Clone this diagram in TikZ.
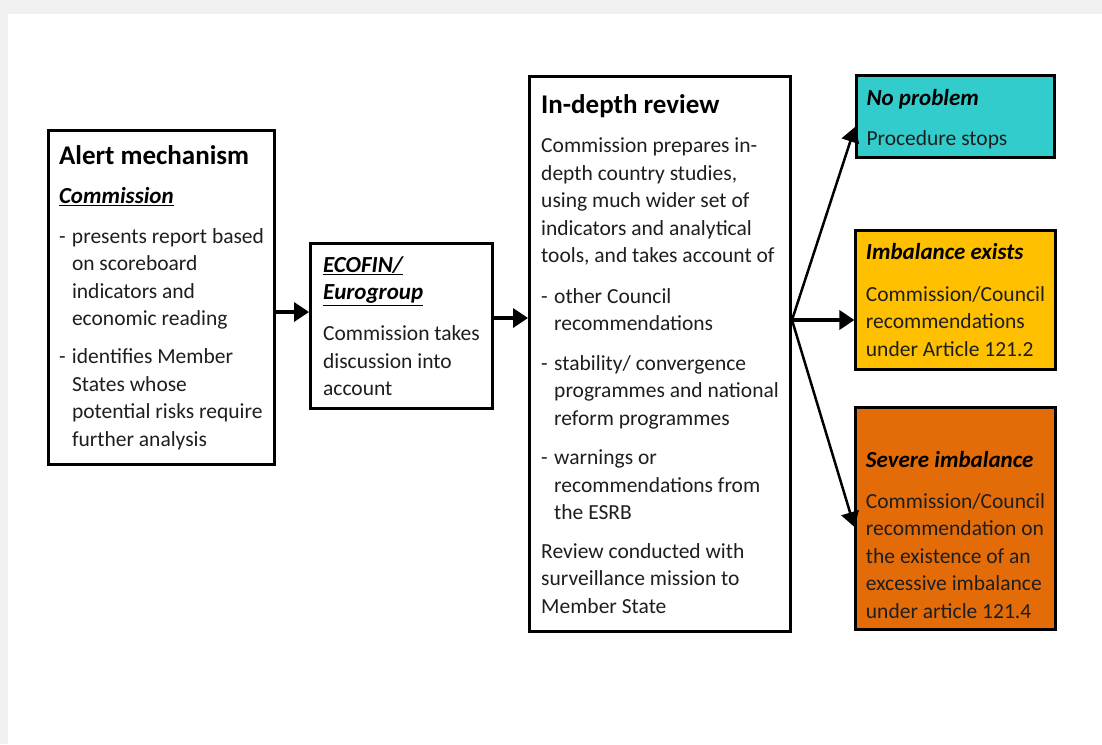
\documentclass[tikz,border=0pt]{standalone}
\usepackage{fontspec}
\setmainfont{Carlito}
\usetikzlibrary{arrows.meta}
\definecolor{cyanbox}{HTML}{33CCCC}
\definecolor{amberbox}{HTML}{FFC000}
\definecolor{orangebox}{HTML}{E36C09}
\definecolor{bodytext}{HTML}{1E1E1E}
\definecolor{bgshade}{HTML}{F0F0F0}
\newcommand\dsh{\makebox[13pt][l]{-}}
\newcommand\ind{\hspace*{13pt}}
\newcommand\ttl[1]{{\fontsize{27}{27.5}\selectfont\bfseries\color{black}#1}}
\newcommand\sub[1]{{\fontsize{23}{27.5}\selectfont\bfseries\itshape\color{black}#1}}
\newcommand\bodyfont{\fontsize{21.5}{27.5}\selectfont}
\begin{document}
\begin{tikzpicture}[x=1pt,y=-1pt,
  box/.style={draw=black, line width=3pt, align=left, inner xsep=10pt, inner ysep=0pt,
    font=\bodyfont, text=bodytext},
  rbox/.style={box, minimum width=198pt, minimum height=#1},
  conn/.style={line width=3.5pt, -{Triangle[length=15pt,width=19pt]}},
  diag/.style={line width=2.5pt, -{Triangle[length=15pt,width=18pt]}}]
\useasboundingbox (0,0) rectangle (1102,744);
\fill[bgshade] (0,0) rectangle (1102,744);
\fill[white] (8,14) rectangle (1102,744);

\node[box, minimum width=226pt, minimum height=334pt] (alert) at (161.5,297.5) {%
\ttl{Alert mechanism}\\[11.5pt]
\sub{\underline{Commission}}\\[12.5pt]
\dsh presents report based\\
\ind on scoreboard\\
\ind indicators and\\
\ind economic reading\\[10.5pt]
\dsh identifies Member\\
\ind States whose\\
\ind potential risks require\\
\ind further analysis};

\node[box, minimum width=182pt, minimum height=165pt] (ecofin) at (401.5,326) {%
\sub{\underline{ECOFIN/}}\\
\sub{\underline{Eurogroup}}\\[13.5pt]
Commission takes\\
discussion into\\
account};

\node[box, minimum width=261pt, minimum height=555pt] (indepth) at (660,354) {%
\ttl{In-depth review}\\[11.5pt]
Commission prepares in-\\
depth country studies,\\
using much wider set of\\
indicators and analytical\\
tools, and takes account of\\[13pt]
\dsh other Council\\
\ind recommendations\\[12pt]
\dsh stability/ convergence\\
\ind programmes and national\\
\ind reform programmes\\[12pt]
\dsh warnings or\\
\ind recommendations from\\
\ind the ESRB\\[11pt]
Review conducted with\\
surveillance mission to\\
Member State};

\node[rbox=82pt, fill=cyanbox] (noprob) at (955.5,116.5) {%
\mbox{}\\[-6.5pt]
\sub{No problem}\\[13pt]
\makebox[178pt][l]{Procedure stops}};

\node[rbox=139pt, fill=amberbox] (imbal) at (955.5,300) {%
\sub{Imbalance exists}\\[14pt]
Commission/Council\\
recommendations\\
under Article 121.2};

\node[rbox=222pt, fill=orangebox] (severe) at (955.5,518.5) {%
\mbox{}\\[21.5pt]
\sub{Severe imbalance}\\[13.5pt]
Commission/Council\\
recommendation on\\
the existence of an\\
excessive imbalance\\
under article 121.4};

\coordinate (hub) at ([yshift=34pt]indepth.east);
\draw[conn] ([yshift=-14.5pt]alert.east) -- ([yshift=-14.5pt]alert.east -| ecofin.west);
\draw[conn] ([yshift=8pt]ecofin.east) -- ([yshift=8pt]ecofin.east -| indepth.west);
\draw[conn] (hub) -- (hub -| imbal.west);
\draw[diag] (hub) -- ([yshift=-10.5pt]noprob.west);
\draw[diag] (hub) -- ([yshift=-8.5pt]severe.west);
\end{tikzpicture}
\end{document}
